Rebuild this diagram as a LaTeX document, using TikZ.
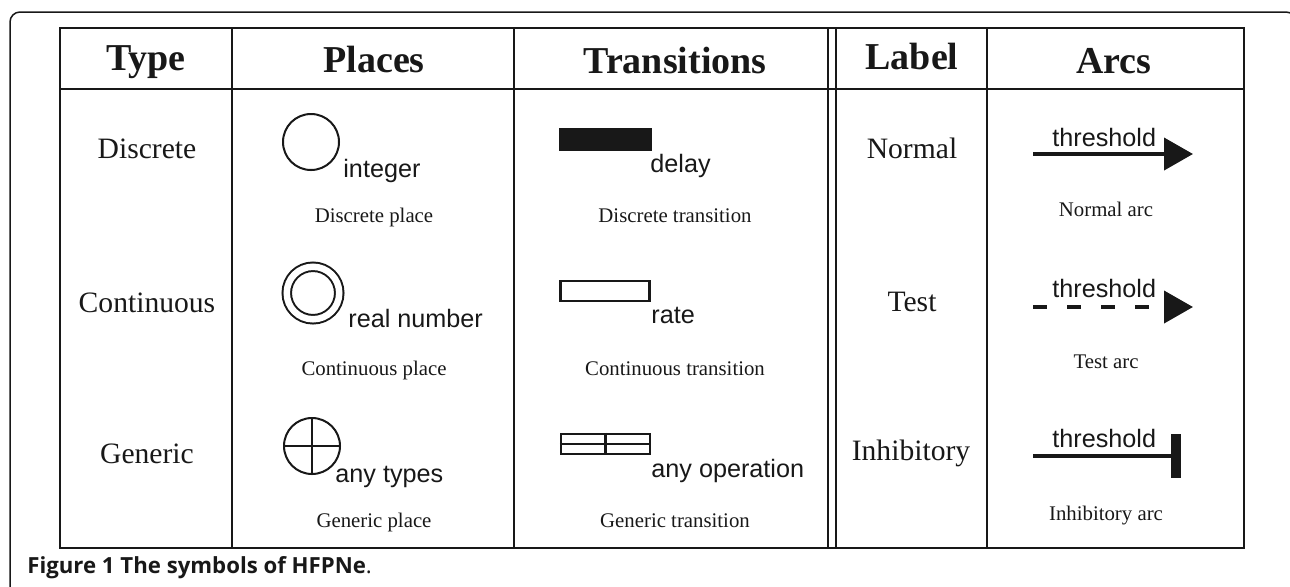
\documentclass[tikz,border=0pt]{standalone}
\usepackage{fontspec}
\setmainfont{Liberation Serif}
\newfontfamily\arialfont{Liberation Sans}
\newfontfamily\captionfont{Open Sans}
\usetikzlibrary{arrows.meta}
\definecolor{inkblack}{RGB}{24,24,24}

\begin{document}
\begin{tikzpicture}[x=0.5pt, y=-0.5pt,
  rule/.style={draw=inkblack, line width=1pt},
  hdr/.style={anchor=base, inner sep=0pt, text=inkblack, font=\fontsize{19}{22}\selectfont\bfseries},
  kind/.style={anchor=base, inner sep=0pt, text=inkblack, font=\fontsize{14.8}{17}\selectfont},
  note/.style={anchor=base, inner sep=0pt, text=inkblack, font=\fontsize{10.4}{12}\selectfont},
  tag/.style={anchor=base west, inner sep=0pt, text=inkblack, font=\arialfont\fontsize{12.6}{15}\selectfont},
  place/.style={circle, draw=inkblack, line width=1pt, minimum size=28pt, inner sep=0pt},
  trans/.style={rectangle, draw=inkblack, line width=1.2pt, minimum width=44.5pt, minimum height=10pt, inner sep=0pt},
  arcline/.style={draw=inkblack, line width=2pt},
  tri/.style={-{Triangle[length=14.5pt, width=16pt]}}]
\useasboundingbox (0,0) rectangle (1290,586);
% outer frame, open at the bottom
\begin{scope}
  \clip (0,0) rectangle (1290,586);
  \draw[inkblack, line width=0.75pt, rounded corners=5pt] (10,12) rectangle (1296,620);
\end{scope}

% table
\draw[rule] (60,28) rectangle (1244,548);
\draw[rule] (60,89) -- (1244,89);
\foreach \x in {232,514,828,836,987}
  \draw[rule] (\x,28) -- (\x,548);

% headers
\node[hdr] (h-type) at (146,70) {Type};
\node[hdr] (h-places) at (374,72) {Places};
\node[hdr] (h-trans) at (675,73) {Transitions};
\node[hdr] (h-label) at (912,69) {Label};
\node[hdr] (h-arcs) at (1114,73) {Arcs};

% type column
\node[kind] (t-disc) at (147,158) {Discrete};
\node[kind] (t-cont) at (147,312) {Continuous};
\node[kind] (t-gen) at (147,463) {Generic};

% places
\node[place] (p-disc) at (311,142) {};
\node[tag] (p-disc-t) at (343,177) {integer};
\node[note] (p-disc-c) at (374,222) {Discrete place};
\node[place, double, double distance=3.25pt, minimum size=26.25pt] (p-cont) at (313,293) {};
\node[tag] (p-cont-t) at (348,327) {real number};
\node[note] (p-cont-c) at (374,375) {Continuous place};
\node[place] (p-gen) at (312,446) {};
\draw[inkblack, line width=1pt] (p-gen.north) -- (p-gen.south) (p-gen.west) -- (p-gen.east);
\node[tag] (p-gen-t) at (335,482) {any types};
\node[note] (p-gen-c) at (374,527) {Generic place};

% transitions
\node[trans, fill=inkblack, minimum width=45.3pt, minimum height=10.3pt] (tr-disc) at (605.5,139.5) {};
\node[tag] (tr-disc-t) at (650,172) {delay};
\node[note] (tr-disc-c) at (675,222) {Discrete transition};
\node[trans] (tr-cont) at (605,291) {};
\node[tag] (tr-cont-t) at (651,323) {rate};
\node[note] (tr-cont-c) at (675,375) {Continuous transition};
\node[trans] (tr-gen) at (605.5,444) {};
\draw[inkblack, line width=1.2pt] (tr-gen.west) -- (tr-gen.east) (tr-gen.north) -- (tr-gen.south);
\node[tag] (tr-gen-t) at (651,477) {any operation};
\node[note] (tr-gen-c) at (675,527) {Generic transition};

% label column
\node[kind] (l-norm) at (912,158) {Normal};
\node[kind] (l-test) at (912,311) {Test};
\node[kind] (l-inh) at (911,460) {Inhibitory};

% arcs
\coordinate (na-s) at (1033,154);
\coordinate (na-e) at (1193,154);
\draw[arcline, tri] (na-s) -- (na-e);
\node[tag] (na-t) at (1052,146) {threshold};
\node[note] (na-c) at (1106,216) {Normal arc};
\coordinate (ta-s) at (1033,307);
\coordinate (ta-e) at (1193,307);
\draw[arcline, tri, dash pattern=on 7pt off 10pt] (ta-s) -- (ta-e);
\node[tag] (ta-t) at (1052,297) {threshold};
\node[note] (ta-c) at (1106,368) {Test arc};
\coordinate (ia-s) at (1033,456);
\coordinate (ia-e) at (1181,456);
\draw[arcline, -{Bar[width=22pt, line width=5pt]}] (ia-s) -- (ia-e);
\node[tag] (ia-t) at (1052,447) {threshold};
\node[note] (ia-c) at (1106,520) {Inhibitory arc};

% caption
\node[anchor=base west, inner sep=0pt, text=inkblack, font=\captionfont\fontsize{11.1}{13}\selectfont] (fig-cap) at (27,573) {\textbf{Figure 1 The symbols of HFPNe}.};
\end{tikzpicture}
\end{document}
